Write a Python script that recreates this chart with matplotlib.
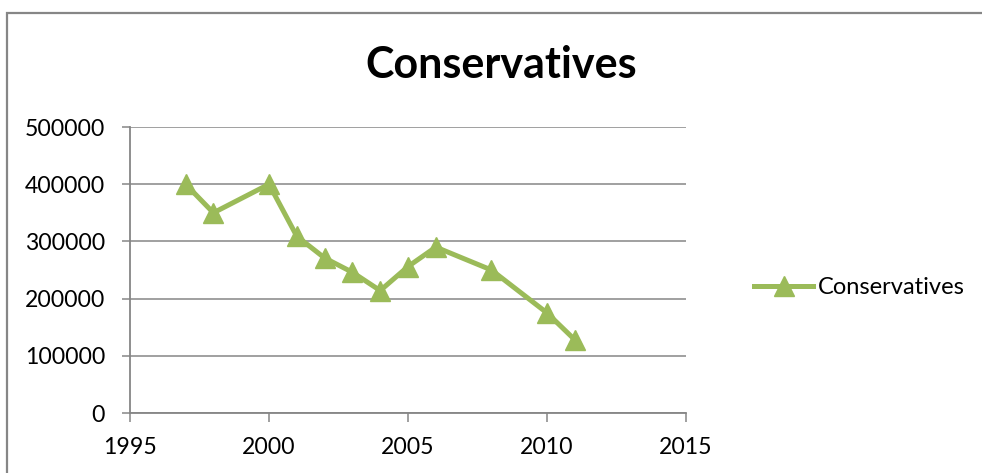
import matplotlib
matplotlib.use("Agg")
import matplotlib.pyplot as plt
from matplotlib.patches import Rectangle

years = [1997, 1998, 2000, 2001, 2002, 2003, 2004, 2005, 2006, 2008, 2010, 2011]
members = [400000, 350000, 400000, 309000, 271000, 246000, 214000, 256000, 290000, 250000, 175000, 128000]
series_name = "Conservatives"
x_ticks = [1995, 2000, 2005, 2010, 2015]
y_ticks = [0, 100000, 200000, 300000, 400000, 500000]

green = "#9BBB59"
grey = "#868686"

plt.rcParams['font.family'] = ['Lato', 'DejaVu Sans']

W, H = 982, 473
fig = plt.figure(figsize=(W / 100, H / 100), dpi=100)
ax = fig.add_axes([130 / W, (H - 413) / H, 556 / W, 286 / H])

# chart frame (only top/left visible in the original crop)
fig.patches.append(Rectangle((7 / W, -0.1), 1.2, (H - 13) / H + 0.1,
                             transform=fig.transFigure, fill=False,
                             edgecolor=grey, linewidth=1.6))

ax.plot(years, members, color=green, linewidth=3.6, marker="^",
        markersize=14, label=series_name, clip_on=False, zorder=3)

ax.set_xlim(1995, 2015)
ax.set_ylim(0, 500000)
ax.set_xticks(x_ticks)
ax.set_yticks(y_ticks)
ax.set_yticklabels([str(v) for v in y_ticks])
ax.yaxis.grid(True, color=grey, linewidth=1.1)
ax.set_axisbelow(True)

for s in ("top", "right"):
    ax.spines[s].set_visible(False)
for s in ("left", "bottom"):
    ax.spines[s].set_color(grey)
    ax.spines[s].set_linewidth(1.3)

ax.tick_params(axis="y", length=6, width=1.1, color=grey, pad=12, labelsize=16.6)
ax.tick_params(axis="x", length=6.5, width=1.1, color=grey, pad=11, labelsize=16.6)

fig.text(501 / W, 1 - 78 / H, "Conservatives", ha="center", va="baseline",
         fontsize=31, fontweight="bold")

fig.legend(loc="center left", bbox_to_anchor=(733 / W, 1 - 288 / H),
           frameon=False, fontsize=17, handlelength=2.5, handletextpad=0.2)

fig.savefig("out.png", dpi=100)
